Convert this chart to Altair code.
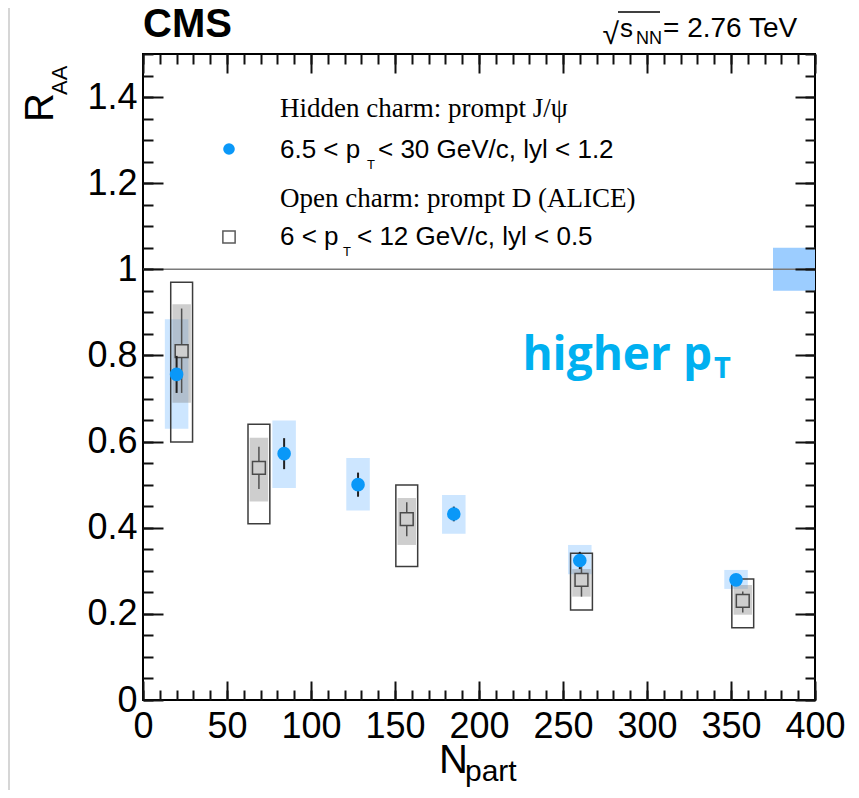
import altair as alt
import pandas as pd

# ---------------- data ----------------
# CMS prompt J/psi, 6.5 < pT < 30 GeV/c, |y| < 1.2
npart_jpsi = [20, 84, 128, 185, 260, 353]
raa_jpsi = [0.756, 0.572, 0.500, 0.432, 0.324, 0.279]
stat_jpsi = [0.043, 0.036, 0.028, 0.017, 0.020, 0.012]
syst_lo_jpsi = [0.630, 0.492, 0.440, 0.386, 0.292, 0.258]
syst_hi_jpsi = [0.884, 0.649, 0.562, 0.476, 0.360, 0.302]

# ALICE prompt D, 6 < pT < 12 GeV/c, |y| < 0.5
npart_d = [23, 69, 157, 261, 357]
raa_d = [0.810, 0.539, 0.420, 0.279, 0.230]
stat_lo_d = [0.713, 0.490, 0.380, 0.240, 0.203]
stat_hi_d = [0.909, 0.588, 0.459, 0.319, 0.252]
band_lo_d = [0.690, 0.461, 0.360, 0.240, 0.198]
band_hi_d = [0.919, 0.609, 0.469, 0.304, 0.267]
outer_lo_d = [0.599, 0.409, 0.310, 0.209, 0.168]
outer_hi_d = [0.970, 0.640, 0.499, 0.341, 0.281]

# global uncertainty box at R_AA = 1
global_npart = [375, 400]
global_raa = [0.95, 1.05]

x_major = list(range(0, 401, 50))
x_minor = list(range(0, 401, 10))
y_major = [0, 0.2, 0.4, 0.6, 0.8, 1.0, 1.2, 1.4]
y_minor = [round(i * 0.05, 2) for i in range(0, 31)]

# ---------------- tables ----------------
HW_J, HW_DO, HW_DB = 7, 6.5, 5.5
dj = pd.DataFrame({
    "n": npart_jpsi, "r": raa_jpsi,
    "lo": [r - s for r, s in zip(raa_jpsi, stat_jpsi)],
    "hi": [r + s for r, s in zip(raa_jpsi, stat_jpsi)],
    "slo": syst_lo_jpsi, "shi": syst_hi_jpsi,
    "x0": [n - HW_J for n in npart_jpsi], "x1": [n + HW_J for n in npart_jpsi],
})
dd = pd.DataFrame({
    "n": npart_d, "r": raa_d, "slo": stat_lo_d, "shi": stat_hi_d,
    "blo": band_lo_d, "bhi": band_hi_d, "olo": outer_lo_d, "ohi": outer_hi_d,
    "bx0": [n - HW_DB for n in npart_d], "bx1": [n + HW_DB for n in npart_d],
    "ox0": [n - HW_DO for n in npart_d], "ox1": [n + HW_DO for n in npart_d],
})
dg = pd.DataFrame({"x0": [global_npart[0]], "x1": [global_npart[1]],
                   "lo": [global_raa[0]], "hi": [global_raa[1]]})
du = pd.DataFrame({"u": [1.0]})
dummy = pd.DataFrame({"cx": [0.0], "cy": [0.0]})

xs = alt.Scale(domain=[0, 400], nice=False, zero=False)
ys = alt.Scale(domain=[0, 1.5], nice=False, zero=False)


def X(f):
    return alt.X(f, type="quantitative", scale=xs, axis=None)


def Y(f):
    return alt.Y(f, type="quantitative", scale=ys, axis=None)


SANS = "Liberation Sans"
SERIF = "Liberation Serif"

# ---------------- data layers ----------------
blue_box = alt.Chart(dj).mark_rect(color="#cde6ff").encode(
    x=X("x0"), x2="x1", y=Y("slo"), y2="shi")
global_box = alt.Chart(dg).mark_rect(color="#9ccdff").encode(
    x=X("x0"), x2="x1", y=Y("lo"), y2="hi")
unity = alt.Chart(du).mark_rule(color="#7a7a7a", strokeWidth=1.5).encode(y=Y("u"))
d_band = alt.Chart(dd).mark_rect(color="#8a8a8a", opacity=0.42).encode(
    x=X("bx0"), x2="bx1", y=Y("blo"), y2="bhi")
d_outer = alt.Chart(dd).mark_rect(fillOpacity=0, stroke="#3c3c3c", strokeWidth=1.5).encode(
    x=X("ox0"), x2="ox1", y=Y("olo"), y2="ohi")
d_err = alt.Chart(dd).mark_rule(color="#505050", strokeWidth=1.5).encode(
    x=X("n"), y=Y("slo"), y2="shi")
d_pt = alt.Chart(dd).mark_square(size=165, filled=True, fill="#cfcfcf", stroke="#4a4a4a",
                                 strokeWidth=1.5, opacity=1).encode(x=X("n"), y=Y("r"))
j_err = alt.Chart(dj).mark_rule(color="#202020", strokeWidth=2).encode(
    x=X("n"), y=Y("lo"), y2="hi")
j_pt = alt.Chart(dj).mark_circle(size=185, color="#0a98f8", opacity=1).encode(
    x=X("n"), y=Y("r"))

# ---------------- axes (ROOT-style inward ticks on four sides) ----------------
def carrier(ax_x, ax_y):
    return alt.Chart(dummy).mark_point(opacity=0).encode(
        x=alt.X("cx", type="quantitative", scale=xs, axis=ax_x),
        y=alt.Y("cy", type="quantitative", scale=ys, axis=ax_y))


def tick_axis(orient, values, size):
    return alt.Axis(orient=orient, values=values, labels=False, ticks=True,
                    tickSize=size, tickWidth=2, tickColor="#111111", offset=-size,
                    domain=False, grid=False, title=None, zindex=1)


lab_x = alt.Axis(orient="bottom", values=x_major, ticks=False, domain=False, grid=False,
                 title=None, labelFont=SANS, labelFontSize=36, labelColor="black",
                 labelPadding=9, labelFlush=False, labelOverlap=False, labelBound=False)
lab_y = alt.Axis(orient="left", values=y_major, format="~g", ticks=False, domain=False,
                 grid=False, title=None, labelFont=SANS, labelFontSize=36,
                 labelColor="black", labelPadding=6, labelFlush=False,
                 labelOverlap=False, labelBound=False)

axes_layers = [
    carrier(lab_x, lab_y),
    carrier(tick_axis("bottom", x_major, 19), tick_axis("left", y_major, 20)),
    carrier(tick_axis("bottom", x_minor, 10), tick_axis("left", y_minor, 10)),
    carrier(tick_axis("top", x_major, 19), tick_axis("right", y_major, 20)),
    carrier(tick_axis("top", x_minor, 10), tick_axis("right", y_minor, 10)),
]

# ---------------- text (positions in px relative to plot origin) ----------------
def txt(s, x, y, size, font=SANS, weight="normal", color="black", align="left", angle=0):
    return alt.Chart(dummy).mark_text(
        text=s, fontSize=size, font=font, fontWeight=weight, color=color,
        align=align, baseline="alphabetic", angle=angle).encode(
        x=alt.value(x), y=alt.value(y))


texts = [
    txt("CMS", 0, -17, 40, weight="bold"),
    txt("\u221a", 476, -10, 30, align="right"),
    txt("s", 477, -17, 26),
    txt("NN", 493, -10, 18),
    txt("= 2.76 TeV", 520, -17, 28),
    txt("Hidden charm: prompt J/\u03c8", 137, 63, 27, font=SERIF),
    txt("6.5 < p", 137, 104, 26),
    txt("T", 224, 115, 13),
    txt("< 30 GeV/c, lyl < 1.2", 235, 104, 26),
    txt("Open charm: prompt D (ALICE)", 137, 153, 27, font=SERIF),
    txt("6 < p", 137, 191, 26),
    txt("T", 200, 202, 13),
    txt("< 12 GeV/c, lyl < 0.5", 214, 191, 26),
    txt("higher p", 569, 316, 46, font="Open Sans", weight="bold", color="#00b0f0", align="right"),
    txt("T", 571, 324, 29, font="Open Sans", weight="bold", color="#00b0f0"),
    txt("R", -90, 68, 40, angle=270),
    txt("AA", -76, 41, 22, angle=270),
    txt("N", 296, 719, 40),
    txt("part", 322, 727, 30),
]

sqrt_bar = alt.Chart(dummy).mark_rule(color="black", strokeWidth=1.5).encode(
    x=alt.value(475), x2=alt.value(517), y=alt.value(-42))
legend_dot = alt.Chart(dummy).mark_point(shape="circle", filled=True, size=135,
                                         color="#0a98f8", opacity=1).encode(
    x=alt.value(86), y=alt.value(95))
legend_sq = alt.Chart(dummy).mark_point(shape="square", filled=True, size=150, fill="white",
                                        stroke="#5a5a5a", strokeWidth=1.5, opacity=1).encode(
    x=alt.value(86), y=alt.value(183))
page_edge = alt.Chart(dummy).mark_rule(color="#d6d6d6", strokeWidth=2).encode(
    x=alt.value(-134), y=alt.value(-46), y2=alt.value(740))

chart = alt.layer(
    page_edge, blue_box, global_box, unity, d_band, d_outer, d_err, d_pt, j_err, j_pt,
    *axes_layers, sqrt_bar, legend_dot, legend_sq, *texts
).resolve_axis(x="independent", y="independent").properties(
    width=672, height=646,
    padding={"left": 135, "top": 46, "right": 36, "bottom": 90},
    autosize=alt.AutoSizeParams(type="none"),
    background="white",
).configure_view(stroke="black", strokeWidth=2)

chart.save("out.html", embed_options={"renderer": "svg", "actions": False})
